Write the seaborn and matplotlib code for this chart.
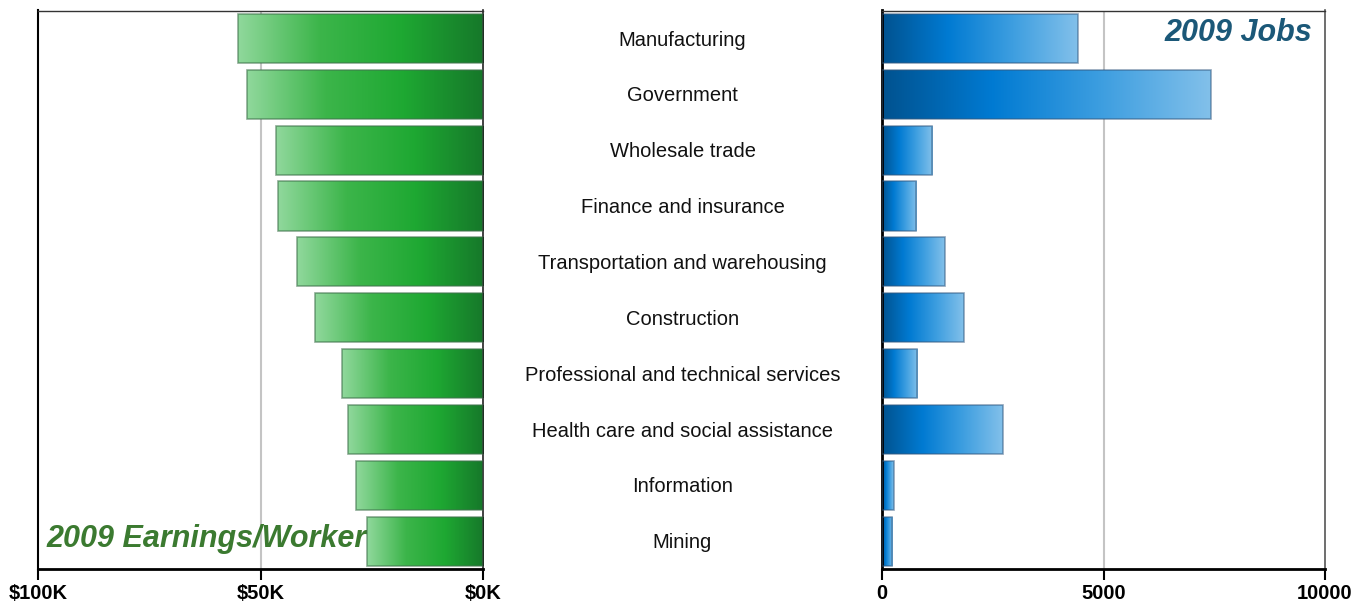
import numpy as np
import pandas as pd
import seaborn as sns
import matplotlib
matplotlib.use("Agg")
from matplotlib import pyplot as plt
from matplotlib.colors import LinearSegmentedColormap
from matplotlib.transforms import blended_transform_factory

industries = ["Manufacturing", "Government", "Wholesale trade", "Finance and insurance",
              "Transportation and warehousing", "Construction",
              "Professional and technical services", "Health care and social assistance",
              "Information", "Mining"]
earnings_k = [55.1, 53.0, 46.6, 46.1, 41.8, 37.8, 31.7, 30.4, 28.5, 26.1]
jobs = [4420, 7420, 1130, 770, 1420, 1850, 800, 2730, 270, 230]

df = pd.DataFrame({"Industry": industries, "Earnings": earnings_k, "Jobs": jobs})

sns.set_style("white")
plt.rcParams["font.family"] = ["Liberation Sans", "DejaVu Sans"]

fig = plt.figure(figsize=(13.65, 6.06), dpi=100)
ax_l = fig.add_axes([38 / 1365, 37 / 606, 445 / 1365, 558.5 / 606])
ax_r = fig.add_axes([882 / 1365, 37 / 606, 443 / 1365, 558.5 / 606])

green = LinearSegmentedColormap.from_list("g", ["#16782a", "#1ea832", "#3cb54a", "#90d89c"])
blue = LinearSegmentedColormap.from_list("b", ["#00528f", "#007ad2", "#3d9ee0", "#82c0ea"])


def gradient_bars(ax, cmap, edge):
    grad = np.linspace(0, 1, 256).reshape(1, -1)
    for p in ax.patches:
        x0, y0 = p.get_x(), p.get_y()
        w, h = p.get_width(), p.get_height()
        im = ax.imshow(grad, cmap=cmap, aspect="auto", extent=[x0, x0 + w, y0 + h, y0],
                       zorder=2, interpolation="bicubic")
        im.set_clip_path(p)
        p.set_facecolor("none")
        p.set_edgecolor(edge)
        p.set_linewidth(1.2)
        p.set_zorder(3)


sns.barplot(data=df, y="Industry", x="Earnings", ax=ax_l, orient="h", width=0.88)
sns.barplot(data=df, y="Industry", x="Jobs", ax=ax_r, orient="h", width=0.88)
gradient_bars(ax_l, green, (0.25, 0.45, 0.3, 0.6))
gradient_bars(ax_r, blue, (0.2, 0.35, 0.5, 0.55))

for ax, lim, ticks, labels in [(ax_l, (100, 0), [100, 50, 0], ["$100K", "$50K", "$0K"]),
                               (ax_r, (0, 10000), [0, 5000, 10000], ["0", "5000", "10000"])]:
    ax.set_xlim(*lim)
    ax.set_ylim(len(industries) - 0.5, -0.5)
    ax.set_xticks(ticks)
    ax.set_xticklabels(labels, fontsize=14.5, fontweight="bold", color="black")
    ax.set_yticks([])
    ax.set_xlabel("")
    ax.set_ylabel("")
    ax.axvline(ticks[1], color="#c4c4c4", lw=1.5, zorder=1)
    ax.tick_params(axis="x", direction="out", length=8, width=1.5, bottom=True, pad=3,
                   color="black")
    ax.spines["bottom"].set_linewidth(2)
    ax.spines["bottom"].set_color("black")
    ax.spines["top"].set_color("#333333")
    ax.spines["top"].set_linewidth(1)

ax_l.spines["left"].set_color("black")
ax_l.spines["left"].set_linewidth(1.5)
ax_l.spines["right"].set_color("#222222")
ax_l.spines["right"].set_linewidth(1.2)
ax_r.spines["left"].set_color("black")
ax_r.spines["left"].set_linewidth(2)
ax_r.spines["right"].set_color("#555555")
ax_r.spines["right"].set_linewidth(1.2)

# category labels in the gap between the panels
trans = blended_transform_factory(fig.transFigure, ax_l.transData)
for i, name in enumerate(industries):
    ax_l.text(682.5 / 1365, i + 0.03, name, transform=trans, ha="center", va="center",
              fontsize=14.5, color="#111111")

ax_l.text(0.02, 0.039, "2009 Earnings/Worker", transform=ax_l.transAxes, ha="left",
          va="baseline", fontsize=22, fontweight="bold", fontstyle="italic",
          color="#3b7a30", zorder=1)
ax_r.text(0.971, 0.945, "2009 Jobs", transform=ax_r.transAxes, ha="right",
          va="baseline", fontsize=22, fontweight="bold", fontstyle="italic",
          color="#1b5878")

fig.savefig("out.png", dpi=100)
